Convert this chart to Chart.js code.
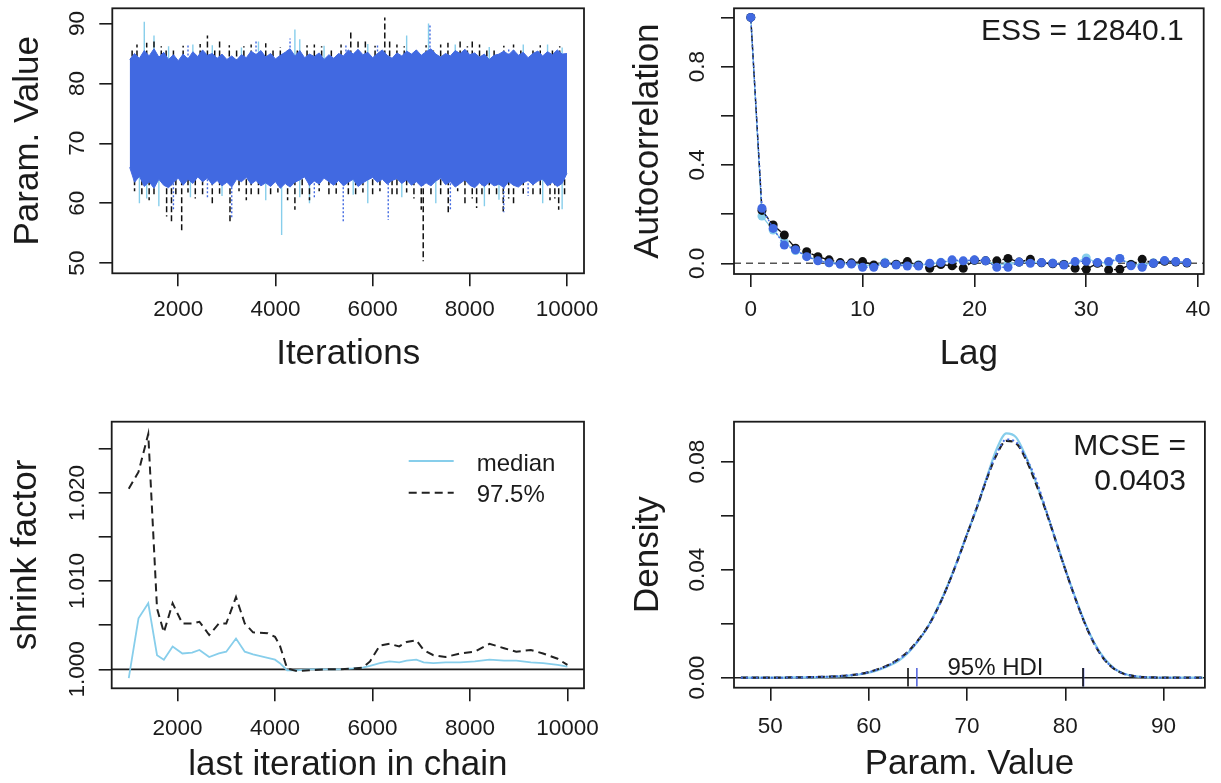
<!DOCTYPE html>
<html>
<head>
<meta charset="utf-8">
<script src="https://cdn.jsdelivr.net/npm/chart.js@4.4.0/dist/chart.umd.min.js"></script>
<style>
html, body { margin: 0; padding: 0; background: #fff; }
#wrap { position: relative; width: 1221px; height: 783px; overflow: hidden; }
canvas { position: absolute; }
</style>
</head>
<body>
<div id="wrap">
  <canvas id="trace" width="610" height="391" style="left:0;top:0"></canvas>
  <canvas id="acf" width="611" height="391" style="left:610px;top:0"></canvas>
  <canvas id="shrink" width="610" height="392" style="left:0;top:391px"></canvas>
  <canvas id="dens" width="611" height="392" style="left:610px;top:391px"></canvas>
</div>
<script>
const FONT = "'Liberation Sans', Arial, Helvetica, sans-serif";
const INK = '#1b1b1b';
const SKY = '#87CEEB', ROYAL = '#4169E1', BLACK = '#111111';

// ---- trace plot: envelope of the three chains, every 100 iterations from 1000 ----
const traceStart = 1000, traceStep = 100;
const traceTop = [84.0, 85.0, 84.2, 85.5, 84.6, 85.8, 84.4, 85.2, 84.0, 84.8,
  83.8, 84.9, 84.1, 85.3, 84.5, 85.6, 84.7, 85.0, 84.2, 84.9,
  84.0, 84.6, 83.9, 84.8, 84.3, 85.4, 84.8, 85.5, 84.4, 85.0,
  84.1, 84.7, 85.2, 85.8, 84.6, 85.5, 84.3, 84.9, 84.5, 85.1,
  84.0, 84.8, 84.2, 85.0, 84.6, 85.6, 84.9, 85.7, 84.8, 85.2,
  84.3, 85.0, 85.6, 84.7, 84.2, 85.1, 84.6, 85.4, 84.9, 85.6,
  84.7, 85.3, 85.8, 84.9, 84.4, 85.0, 84.6, 85.5, 85.0, 85.7,
  84.8, 85.1, 84.4, 84.9, 84.0, 84.7, 84.9, 85.4, 84.8, 85.6,
  84.7, 85.2, 84.3, 85.0, 85.4, 84.6, 85.3, 84.8, 85.6, 84.9, 85.0];
const traceBot = [66.0, 63.5, 64.5, 62.8, 63.6, 62.5, 64.0, 63.0, 62.6, 63.4,
  64.2, 63.0, 64.0, 63.3, 64.4, 63.6, 64.2, 63.1, 63.8, 62.9,
  63.5, 62.7, 64.0, 63.6, 64.3, 63.2, 63.8, 62.9, 63.4, 62.8,
  63.6, 62.5, 63.3, 62.7, 63.5, 63.9, 64.4, 63.0, 63.7, 63.2,
  64.2, 63.6, 63.0, 63.8, 62.9, 63.5, 64.0, 62.8, 63.4, 63.9,
  64.3, 63.5, 64.0, 63.2, 63.8, 64.1, 63.3, 63.9, 63.0, 63.6,
  62.8, 63.4, 62.9, 63.7, 64.2, 63.1, 63.6, 62.7, 63.3, 63.9,
  63.0, 62.6, 63.4, 62.8, 63.5, 62.9, 63.2, 62.6, 63.6, 63.0,
  62.7, 63.4, 63.8, 63.1, 63.7, 64.0, 62.9, 63.5, 62.8, 63.3, 65.0];
// excursions outside the band, per chain
const blackUpIter = [1150, 1500, 1900, 2600, 2850, 3200, 3500, 3950, 4450, 4800, 5150, 5550, 5700, 5850, 6250, 6500, 6900, 7400, 7800, 8050, 8350, 8900, 9300, 9700,
  1050, 1350, 1650, 1750, 2100, 2450, 2750, 3050, 3350, 3800, 4100, 4250, 4650, 4950, 5350, 6050, 6350, 6650, 7100, 7250, 7550, 7950, 8200, 8500, 8700, 9050, 9450, 9850];
const blackUpTip = [86.5, 87, 86, 88, 87, 86, 86.5, 86, 86, 86.5, 86, 89, 87, 87, 91, 86.5, 86, 86.5, 87, 87, 86, 86.5, 86, 86,
  86, 86.8, 86.2, 85.8, 86.3, 86.6, 86.0, 86.4, 86.2, 86.7, 86.1, 86.0, 86.4, 86.2, 86.5, 86.3, 87.0, 86.2, 86.4, 86.0, 86.8, 86.2, 86.5, 85.9, 86.3, 86.0, 86.4, 86.2];
const skyUpIter = [1300, 1500, 2300, 3650, 4400, 4500, 6700, 7150, 7700, 9100, 9900, 1800, 2700, 3300, 5000, 5900, 8400, 9600];
const skyUpTip = [90.3, 88, 86.5, 87, 89, 87.4, 88, 90, 86.5, 86.5, 86, 86.2, 86.4, 86.0, 86.3, 86.6, 86.1, 86.5];
const royalUpIter = [3600, 4300, 5450, 7180, 8800, 2200, 6100];
const royalUpTip = [87, 87.5, 86.5, 90, 86, 86.4, 86.6];
const blackDnIter = [1100, 1500, 1760, 1860, 2070, 2500, 2700, 3064, 3400, 3650, 3900, 4400, 4700, 5100, 5650, 6000, 6500, 7000, 7041, 7556, 7900, 8140, 8400, 8688, 8900, 9300, 9650, 9829,
  1250, 1400, 1950, 2200, 2350, 2850, 3250, 3500, 4050, 4250, 4550, 4900, 5250, 5500, 5800, 6150, 6400, 6700, 6850, 7200, 7400, 7750, 8050, 8250, 8550, 8800, 9100, 9450, 9750, 9950];
const blackDnTip = [62, 61, 57.8, 56.9, 55, 61, 60, 56.9, 60.5, 61, 61, 58.9, 60.5, 61, 61, 61, 61, 58.9, 50.3, 58.1, 60, 59.2, 61, 58.6, 59.5, 61, 60.5, 58.9,
  61.5, 60.5, 61, 61.8, 60.8, 61.6, 62, 61.2, 61.8, 60.5, 61.5, 62, 61.6, 61, 61.8, 62, 61.2, 61.8, 60.8, 61.5, 61.2, 62, 60.8, 61.5, 61.2, 60.8, 61.6, 61.2, 60.8, 61.5];
const skyDnIter = [1200, 1600, 2250, 3800, 4127, 4700, 5900, 7300, 8300, 9500, 9900, 1350, 2900, 4500, 5600, 6600, 8600];
const skyDnTip = [60, 59.5, 61, 60.5, 54.7, 60, 60, 60, 59.5, 60, 59, 60.8, 61.2, 61.0, 61.4, 61.0, 60.6];
const royalDnIter = [1900, 3100, 5395, 6321, 7600, 8700, 2600, 4800, 9200];
const royalDnTip = [59, 57.5, 56.9, 57.2, 59, 58.5, 61.0, 60.8, 61.2];
const traceXTicks = [2000, 4000, 6000, 8000, 10000];
const traceYTicks = [50, 60, 70, 80, 90];

// ---- autocorrelation ----
const lags = [0, 1, 2, 3, 4, 5, 6, 7, 8, 9, 10, 11, 12, 13, 14, 15, 16, 17, 18, 19,
  20, 21, 22, 23, 24, 25, 26, 27, 28, 29, 30, 31, 32, 33, 34, 35, 36, 37, 38, 39];
const acfSky = [1.0, 0.192, 0.135, 0.085, 0.052, 0.030, 0.012, 0.002, 0.0, -0.002,
  -0.008, -0.010, 0.004, -0.005, -0.006, -0.006, -0.004, 0.004, 0.010, 0.008,
  0.012, 0.010, -0.005, -0.004, 0.004, 0.006, 0.002, 0.001, -0.004, 0.004,
  0.022, 0.002, 0.002, 0.020, -0.004, -0.008, 0.002, 0.010, 0.006, 0.002];
const acfBlack = [1.0, 0.215, 0.156, 0.115, 0.061, 0.047, 0.027, 0.014, 0.003, 0.002,
  0.007, -0.007, 0.0, -0.004, 0.007, -0.008, -0.020, -0.005, -0.010, -0.020,
  0.012, 0.010, 0.010, 0.020, 0.005, 0.016, 0.002, -0.002, -0.005, -0.020,
  -0.024, 0.0, -0.027, -0.024, -0.005, 0.016, 0.0, 0.008, 0.005, 0.001];
const acfRoyal = [1.0, 0.224, 0.142, 0.074, 0.055, 0.027, 0.010, 0.002, -0.004, -0.003,
  -0.016, -0.016, 0.0, -0.007, -0.011, -0.011, 0.0, 0.003, 0.014, 0.010,
  0.014, 0.010, -0.016, -0.016, 0.005, 0.0, 0.003, 0.0, -0.007, 0.007,
  0.008, 0.003, 0.007, 0.020, -0.010, -0.016, 0.0, 0.011, 0.007, 0.003];
const essText = 'ESS = 12840.1';
const acfXTicks = [0, 10, 20, 30, 40];
const acfYTicks = [0, 0.2, 0.4, 0.6, 0.8, 1.0];
const acfYLabels = [0, 0.4, 0.8];

// ---- shrink factor ----
const shrinkIter = [1000, 1200, 1400, 1580, 1720, 1900, 2100, 2300, 2450, 2650, 2850, 3000, 3200, 3380, 3550,
  3850, 4000, 4100, 4250, 4450, 4700, 5000, 5300, 5600, 5800, 5950, 6150, 6350, 6550, 6700,
  6900, 7050, 7250, 7500, 7800, 8100, 8400, 8700, 8950, 9250, 9500, 9800, 10000];
const shrinkMedian = [0.9990, 1.0058, 1.0075, 1.0016, 1.0011, 1.0026, 1.0018, 1.0019, 1.0022, 1.0014, 1.0018, 1.0020, 1.0035, 1.0020, 1.0017,
  1.0013, 1.0011, 1.0007, 0.9999, 0.9999, 1.0000, 1.0000, 1.0000, 1.0001, 1.0002, 1.0004, 1.0007, 1.0009, 1.0008, 1.0010,
  1.0011, 1.0008, 1.0007, 1.0008, 1.0008, 1.0009, 1.0011, 1.0010, 1.0010, 1.0008, 1.0007, 1.0005, 1.0003];
const shrinkUpper = [1.0205, 1.0224, 1.0267, 1.0069, 1.0042, 1.0075, 1.0052, 1.0052, 1.0054, 1.0039, 1.0052, 1.0052, 1.0082, 1.0052, 1.0042,
  1.0041, 1.0037, 1.0027, 1.0001, 0.9998, 0.9999, 1.0000, 1.0000, 1.0001, 1.0002, 1.0009, 1.0027, 1.0029, 1.0026, 1.0031,
  1.0033, 1.0022, 1.0016, 1.0014, 1.0018, 1.0020, 1.0029, 1.0024, 1.0020, 1.0022, 1.0018, 1.0012, 1.0005];
const shrinkXTicks = [2000, 4000, 6000, 8000, 10000];
const shrinkYTicks = [1.000, 1.005, 1.010, 1.015, 1.020, 1.025];
const shrinkYLabels = [1.000, 1.010, 1.020];

// ---- density ----
const densX = [47, 48, 49, 50, 51, 52, 53, 54, 55, 56, 57, 58, 59, 60, 61, 62, 63, 64, 65, 66, 67, 68, 69, 70,
  71, 72, 73, 74, 75, 76, 77, 78, 79, 80, 81, 82, 83, 84, 85, 86, 87, 88, 89, 90, 91, 92, 93, 94];
const densBlack = [0, 0, 0, 0, 0, 0.0001, 0.0001, 0.0002, 0.0003, 0.0004, 0.0006, 0.0009, 0.0013, 0.0021, 0.0032, 0.0047,
  0.0068, 0.0097, 0.0138, 0.0188, 0.0255, 0.0337, 0.0430, 0.0530, 0.0630, 0.0735, 0.0825, 0.0877, 0.0868, 0.0808,
  0.0720, 0.0620, 0.0510, 0.0400, 0.0295, 0.0200, 0.0122, 0.0066, 0.0032, 0.0014, 0.0006, 0.0002, 0.0001, 0, 0, 0, 0, 0];
const densSky = [0, 0, 0, 0, 0, 0.0001, 0.0001, 0.0001, 0.0002, 0.0003, 0.0005, 0.0008, 0.0012, 0.0019, 0.0029, 0.0043,
  0.0062, 0.0092, 0.0135, 0.0188, 0.0258, 0.0340, 0.0432, 0.0532, 0.0628, 0.0740, 0.0845, 0.0905, 0.0890, 0.0818,
  0.0725, 0.0622, 0.0512, 0.0402, 0.0298, 0.0204, 0.0126, 0.0070, 0.0034, 0.0015, 0.0006, 0.0002, 0.0001, 0, 0, 0, 0, 0];
const densRoyal = [0, 0, 0, 0, 0, 0.0001, 0.0001, 0.0002, 0.0003, 0.0004, 0.0006, 0.0009, 0.0013, 0.0020, 0.0031, 0.0046,
  0.0066, 0.0095, 0.0136, 0.0187, 0.0254, 0.0336, 0.0430, 0.0531, 0.0632, 0.0738, 0.0828, 0.0882, 0.0872, 0.0815,
  0.0735, 0.0626, 0.0512, 0.0400, 0.0296, 0.0201, 0.0123, 0.0067, 0.0033, 0.0014, 0.0006, 0.0002, 0.0001, 0, 0, 0, 0, 0];
const hdiBlack = [64.0, 81.8];
const hdiRoyal = [64.9, 81.85];
const hdiTick = [-0.0033, 0.0036];
const mcseText = ['MCSE =', '0.0403'];
const densXTicks = [50, 60, 70, 80, 90];
const densYTicks = [0, 0.02, 0.04, 0.06, 0.08];
const densYLabels = [0, 0.04, 0.08];

function pts(xs, ys) { return xs.map((x, i) => ({x: x, y: ys[i]})); }
function spikes(xs, tips, base) {
  const out = [];
  xs.forEach((x, i) => { out.push({x: x, y: base}, {x: x, y: tips[i]}, {x: x, y: null}); });
  return out;
}
function lineDS(data, color, width, dash, order, extra) {
  return Object.assign({
    data: data, borderColor: color, backgroundColor: color, borderWidth: width,
    borderDash: dash || [], pointRadius: 0, tension: 0, fill: false, spanGaps: false, order: order
  }, extra || {});
}

function rAxis(o) {
  const left = o.pos === 'left';
  return {
    type: 'linear', position: o.pos, min: o.min, max: o.max,
    afterBuildTicks: s => { s.ticks = o.ticks.map(v => ({value: v})); },
    afterFit: s => {
      if (left) s.width = o.size; else s.height = o.size;
      s.paddingTop = 0; s.paddingBottom = 0; s.paddingLeft = 0; s.paddingRight = 0;
    },
    grid: {drawOnChartArea: false, drawTicks: true, tickLength: 13, tickWidth: 1.6, tickColor: INK, lineWidth: 1.6, color: INK},
    border: {display: false},
    ticks: {
      autoSkip: false, color: INK, padding: o.tickPad,
      font: {family: FONT, size: 22.5, lineHeight: 1.2},
      minRotation: left ? 90 : 0, maxRotation: left ? 90 : 0,
      crossAlign: left ? 'center' : 'near',
      callback: v => (o.labels || o.ticks).includes(v) ? v.toFixed(o.dec) : ''
    },
    title: {
      display: true, text: o.title, color: INK,
      font: {family: FONT, size: 35, lineHeight: 1},
      padding: left ? {top: o.titlePad, bottom: 0} : {top: 0, bottom: o.titlePad}
    }
  };
}

const deco = {
  id: 'rdeco',
  beforeDatasetsDraw(chart, args, o) {
    const {ctx, chartArea: a, scales: {y}} = chart;
    if (!o.hline) return;
    const py = y.getPixelForValue(o.hline.value);
    ctx.save();
    ctx.strokeStyle = o.hline.color; ctx.lineWidth = o.hline.width;
    ctx.setLineDash(o.hline.dash || []);
    ctx.beginPath(); ctx.moveTo(a.left, py); ctx.lineTo(a.right, py); ctx.stroke();
    ctx.restore();
  },
  afterDraw(chart, args, o) {
    const {ctx, chartArea: a, scales: {x, y}} = chart;
    ctx.save();
    ctx.strokeStyle = INK; ctx.lineWidth = 1.8;
    ctx.strokeRect(a.left, a.top, a.right - a.left, a.bottom - a.top);
    ctx.fillStyle = INK; ctx.textBaseline = 'alphabetic';
    (o.notes || []).forEach(n => {
      ctx.font = n.size + 'px ' + FONT;
      ctx.textAlign = n.align;
      const px = n.vx !== undefined ? x.getPixelForValue(n.vx) : a.right + n.dx;
      const py = n.vy !== undefined ? y.getPixelForValue(n.vy) + n.dy : a.top + n.dy;
      ctx.fillText(n.text, px, py);
    });
    if (o.legend) {
      const L = o.legend;
      L.rows.forEach(r => {
        ctx.strokeStyle = r.color; ctx.lineWidth = r.width; ctx.setLineDash(r.dash);
        ctx.beginPath(); ctx.moveTo(a.left + L.x0, a.top + r.ly); ctx.lineTo(a.left + L.x1, a.top + r.ly); ctx.stroke();
        ctx.setLineDash([]);
        ctx.font = L.size + 'px ' + FONT; ctx.textAlign = 'left'; ctx.fillStyle = INK;
        ctx.fillText(r.label, a.left + L.tx, a.top + r.base);
      });
    }
    ctx.restore();
  }
};

function makeChart(id, datasets, o) {
  return new Chart(document.getElementById(id), {
    type: 'line',
    data: {datasets: datasets},
    options: {
      responsive: false, animation: false, events: [],
      layout: {autoPadding: false, padding: {left: 0, top: o.top, right: o.right, bottom: 0}},
      plugins: {legend: {display: false}, tooltip: {enabled: false}, rdeco: o.deco || {}},
      scales: {x: rAxis(o.x), y: rAxis(o.y)}
    },
    plugins: [deco]
  });
}

// panel 1: trace
const traceIter = traceTop.map((v, i) => traceStart + i * traceStep);
makeChart('trace', [
  lineDS(pts(traceIter, traceTop), ROYAL, 1, [], 0, {fill: '+1'}),
  lineDS(pts(traceIter, traceBot), ROYAL, 1, [], 1),
  lineDS(spikes(royalUpIter, royalUpTip, 80), ROYAL, 1.4, [2, 2], 2),
  lineDS(spikes(royalDnIter, royalDnTip, 70), ROYAL, 1.4, [2, 2], 2),
  lineDS(spikes(blackUpIter, blackUpTip, 80), BLACK, 1.5, [6, 3], 3),
  lineDS(spikes(blackDnIter, blackDnTip, 70), BLACK, 1.5, [6, 3], 3),
  lineDS(spikes(skyUpIter, skyUpTip, 80), SKY, 1.4, [], 4),
  lineDS(spikes(skyDnIter, skyDnTip, 70), SKY, 1.4, [], 4)
], {
  top: 8.3, right: 26,
  x: {pos: 'bottom', min: 642, max: 10350, ticks: traceXTicks, dec: 0, size: 117.7, tickPad: 10.2, title: 'Iterations', titlePad: 19.5},
  y: {pos: 'left', min: 48.3, max: 92.55, ticks: traceYTicks, dec: 0, size: 112.3, tickPad: 8.8, title: 'Param. Value', titlePad: 10.7}
});

// panel 2: autocorrelation
const acfPoint = {pointRadius: 4.5, pointBorderWidth: 0, pointHoverRadius: 4.5};
makeChart('acf', [
  lineDS(pts(lags, acfRoyal), ROYAL, 1.4, [2, 2], 0, acfPoint),
  lineDS(pts(lags, acfBlack), BLACK, 1.4, [6, 3], 1, acfPoint),
  lineDS(pts(lags, acfSky), SKY, 1.4, [], 2, acfPoint)
], {
  top: 8.3, right: 17.3,
  x: {pos: 'bottom', min: -1.5, max: 40.5, ticks: acfXTicks, dec: 0, size: 117, tickPad: 9.5, title: 'Lag', titlePad: 19.5},
  y: {pos: 'left', min: -0.0435, max: 1.037, ticks: acfYTicks, labels: acfYLabels, dec: 1, size: 124, tickPad: 7.4, title: 'Autocorrelation', titlePad: 20.4},
  deco: {
    hline: {value: 0, color: '#555', width: 1.6, dash: [7, 5]},
    notes: [{text: essText, size: 30, align: 'right', dx: -20, dy: 32}]
  }
});

// panel 3: shrink factor
makeChart('shrink', [
  lineDS(pts(shrinkIter, shrinkUpper), '#222', 2, [8, 5], 0),
  lineDS(pts(shrinkIter, shrinkMedian), SKY, 1.8, [], 1)
], {
  top: 30.7, right: 26,
  x: {pos: 'bottom', min: 650, max: 10340, ticks: shrinkXTicks, dec: 0, size: 94.7, tickPad: 13.5, title: 'last iteration in chain', titlePad: 0},
  y: {pos: 'left', min: 0.99785, max: 1.0281, ticks: shrinkYTicks, labels: shrinkYLabels, dec: 3, size: 111.7, tickPad: -6.9, title: 'shrink factor', titlePad: 8.8},
  deco: {
    hline: {value: 1, color: INK, width: 1.6, dash: []},
    legend: {x0: 297, x1: 342, tx: 365, size: 24, rows: [
      {label: 'median', ly: 39.3, base: 49, color: SKY, width: 2, dash: []},
      {label: '97.5%', ly: 71, base: 80, color: '#222', width: 2, dash: [8, 5]}
    ]}
  }
});

// panel 4: density
const hdiLines = (hdi, color) => hdi.map(v => lineDS(pts([v, v], hdiTick), color, 1.6, [], 0));
makeChart('dens', [
  lineDS(pts(densX, densRoyal), ROYAL, 2, [2, 3], 1, {cubicInterpolationMode: 'monotone'}),
  lineDS(pts(densX, densBlack), '#222', 2.2, [7, 4], 2, {cubicInterpolationMode: 'monotone'}),
  lineDS(pts(densX, densSky), SKY, 2.2, [], 3, {cubicInterpolationMode: 'monotone'})
].concat(hdiLines(hdiBlack, BLACK), hdiLines(hdiRoyal, '#5566dd')), {
  top: 30.7, right: 16.1,
  x: {pos: 'bottom', min: 46.3, max: 94.2, ticks: densXTicks, dec: 0, size: 95.3, tickPad: 12.5, title: 'Param. Value', titlePad: 1.5},
  y: {pos: 'left', min: -0.0037, max: 0.0948, ticks: densYTicks, labels: densYLabels, dec: 2, size: 124, tickPad: 1.1, title: 'Density', titlePad: 20.4},
  deco: {
    hline: {value: 0, color: INK, width: 1.6, dash: []},
    notes: [
      {text: mcseText[0], size: 30, align: 'right', dx: -19, dy: 33},
      {text: mcseText[1], size: 30, align: 'right', dx: -19, dy: 68},
      {text: '95% HDI', size: 24, align: 'center', vx: (hdiBlack[0] + hdiBlack[1]) / 2, vy: 0, dy: -3}
    ]
  }
});
</script>
</body>
</html>
